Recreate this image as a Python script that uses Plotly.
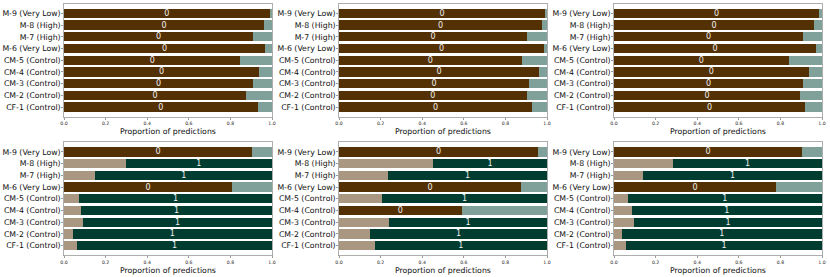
import plotly.graph_objects as go

categories = ["CF-1 (Control)", "CM-2 (Control)", "CM-3 (Control)", "CM-4 (Control)",
              "CM-5 (Control)", "M-6 (Very Low)", "M-7 (High)", "M-8 (High)", "M-9 (Very Low)"]

# proportion of predictions for class 0 (bottom -> top order as in categories)
p0_panel1 = [0.931, 0.875, 0.909, 0.937, 0.848, 0.968, 0.909, 0.963, 0.989]
p0_panel2 = [0.928, 0.902, 0.913, 0.961, 0.878, 0.987, 0.904, 0.976, 0.990]
p0_panel3 = [0.918, 0.894, 0.910, 0.936, 0.839, 0.971, 0.910, 0.961, 0.987]
p0_panel4 = [0.063, 0.042, 0.091, 0.082, 0.072, 0.807, 0.151, 0.297, 0.904]
p0_panel5 = [0.172, 0.150, 0.240, 0.590, 0.206, 0.875, 0.236, 0.453, 0.957]
p0_panel6 = [0.058, 0.037, 0.096, 0.085, 0.066, 0.780, 0.141, 0.284, 0.904]

panels = [p0_panel1, p0_panel2, p0_panel3, p0_panel4, p0_panel5, p0_panel6]
x_ticks = [0.0, 0.2, 0.4, 0.6, 0.8, 1.0]
x_tick_labels = ["0.0", "0.2", "0.4", "0.6", "0.8", "1.0"]
x_title = "Proportion of predictions"

C0_STRONG = "#543005"
C0_LIGHT = "#aa9782"
C1_STRONG = "#003c30"
C1_LIGHT = "#80a09a"

W, H = 830, 277
col_px = [(64, 272), (339, 547), (614, 822)]
row_px = [(3.5, 117), (142, 255.5)]

fig = go.Figure()
FONT = "DejaVu Sans"

for i, p0 in enumerate(panels):
    r, c = divmod(i, 3)
    ax = "" if i == 0 else str(i + 1)
    p1 = [1 - v for v in p0]
    maj0 = [v >= 0.5 for v in p0]
    col0 = [C0_STRONG if m else C0_LIGHT for m in maj0]
    col1 = [C1_LIGHT if m else C1_STRONG for m in maj0]
    t0 = ["0" if m else "" for m in maj0]
    t1 = ["" if m else "1" for m in maj0]
    for vals, cols, txt in ((p0, col0, t0), (p1, col1, t1)):
        fig.add_trace(go.Bar(
            x=vals, y=categories, orientation="h",
            marker=dict(color=cols, line=dict(width=0)),
            text=txt, textposition="inside", insidetextanchor="middle",
            textangle=0, constraintext="none",
            textfont=dict(color="#f0f0f0", size=8, family=FONT),
            xaxis="x" + ax, yaxis="y" + ax, width=0.8, showlegend=False,
            hoverinfo="skip", cliponaxis=False,
        ))
    x0, x1 = col_px[c]
    y0, y1 = row_px[r]
    fig.layout["xaxis" + ax] = dict(
        domain=[x0 / W, x1 / W], anchor="y" + ax, range=[0, 1],
        tickvals=x_ticks, ticktext=x_tick_labels, automargin=False,
        tickfont=dict(size=4.6, family=FONT, color="#222"),
        ticks="outside", ticklen=2, tickcolor="#555", tickwidth=0.6,
        showgrid=False, zeroline=False, showline=True, mirror=True,
        linecolor="#9a9a9a", linewidth=0.8, fixedrange=True,
    )
    fig.layout["yaxis" + ax] = dict(
        domain=[1 - y1 / H, 1 - y0 / H], anchor="x" + ax, automargin=False,
        type="category", categoryorder="array", categoryarray=categories,
        range=[-0.84, 8.84], ticklabelstandoff=-1,
        tickfont=dict(size=7.8, family=FONT, color="#111"),
        ticks="outside", ticklen=2, tickcolor="#555", tickwidth=0.6,
        showgrid=False, zeroline=False, showline=True, mirror=True,
        linecolor="#9a9a9a", linewidth=0.8, fixedrange=True,
    )
    fig.add_annotation(
        text=x_title, xref="paper", yref="paper",
        x=(x0 + x1) / 2 / W, y=1 - (y1 + 14.5) / H,
        showarrow=False, xanchor="center", yanchor="middle",
        font=dict(size=7.8, family=FONT, color="#111"),
    )

fig.update_layout(
    width=W, height=H, barmode="stack",
    margin=dict(l=0, r=0, t=0, b=0),
    paper_bgcolor="white", plot_bgcolor="white",
)

fig.write_html(
    "out.html",
    config={"displayModeBar": False, "staticPlot": True},
    post_script="document.body.style.margin='0';document.body.style.overflow='hidden';",
)
